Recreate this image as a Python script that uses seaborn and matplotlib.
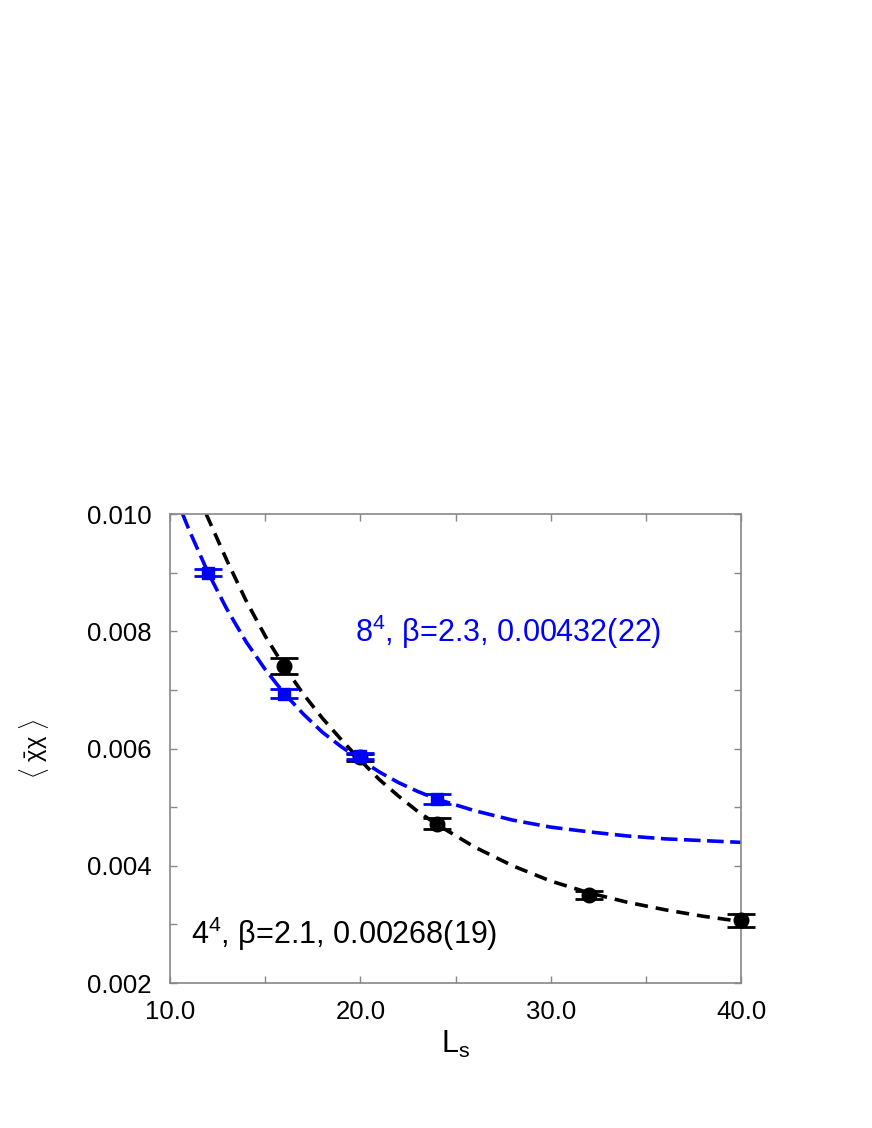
import numpy as np
import pandas as pd
import seaborn as sns
import matplotlib.pyplot as plt
from matplotlib.ticker import MultipleLocator, FormatStrFormatter

# measured points (L_s, <chibar chi>, error)
black_x = [16, 20, 24, 32, 40]
black_y = [0.00741, 0.00585, 0.00472, 0.00350, 0.00307]
black_err = [0.00014, 0.00006, 0.00010, 0.000065, 0.00011]

blue_x = [12, 16, 20, 24]
blue_y = [0.00900, 0.00694, 0.00587, 0.00514]
blue_err = [0.00006, 0.00008, 0.00005, 0.000085]

# fit curves
black_fit_x = [11.9, 13, 14, 15, 16, 17, 18, 19, 20, 21, 22, 23, 24, 26, 28, 30, 32, 34, 36, 38, 40]
black_fit_y = [0.01000, 0.00920, 0.00852, 0.00792, 0.00740, 0.00693, 0.00652, 0.00615,
               0.00580, 0.00547, 0.00519, 0.00493, 0.00471, 0.00432, 0.00400, 0.00374,
               0.00354, 0.00338, 0.00325, 0.00314, 0.00305]

blue_fit_x = [10.64, 11, 12, 13, 14, 15, 16, 17, 18, 19, 20, 21, 22, 23, 24, 26, 28, 30,
              32, 34, 36, 38, 40]
blue_fit_y = [0.01002, 0.00973, 0.00900, 0.00837, 0.00782, 0.00735, 0.00694, 0.00659,
              0.00628, 0.00603, 0.00581, 0.00560, 0.00542, 0.00527, 0.00514, 0.00494,
              0.00478, 0.00466, 0.00458, 0.00451, 0.00446, 0.00443, 0.00440]

sns.set_style("ticks")
plt.rcParams['font.family'] = ['Liberation Sans', 'DejaVu Sans']
plt.rcParams['mathtext.fontset'] = 'custom'
plt.rcParams['mathtext.rm'] = 'Liberation Sans'
plt.rcParams['mathtext.it'] = 'Liberation Sans:italic'
plt.rcParams['text.color'] = 'black'
plt.rcParams['axes.labelcolor'] = 'black'

fig = plt.figure(figsize=(8.72, 11.28), dpi=100)
ax = fig.add_axes([0.195, 0.1285, 0.655, 0.4157])

df_black = pd.DataFrame({'L': black_fit_x, 'pbp': black_fit_y})
df_blue = pd.DataFrame({'L': blue_fit_x, 'pbp': blue_fit_y})

sns.lineplot(data=df_black, x='L', y='pbp', ax=ax, color='black', lw=2.6, zorder=2)
ax.lines[-1].set_dashes([3.6, 2.2])
sns.lineplot(data=df_blue, x='L', y='pbp', ax=ax, color='#0000ff', lw=2.6, zorder=2)
ax.lines[-1].set_dashes([4.6, 1.8])

ax.errorbar(black_x, black_y, yerr=black_err, fmt='o', color='black', ms=10.5,
            capsize=10, capthick=2, elinewidth=2, zorder=3, clip_on=False)
ax.errorbar(blue_x, blue_y, yerr=blue_err, fmt='s', color='#0000ff', ms=8.5,
            capsize=10, capthick=2, elinewidth=2, zorder=4, clip_on=False)

ax.text(19.72, 0.00782, '8$^4$, β=2.3, 0.00432(22)', color='#0000ff', fontsize=22,
        va='baseline', ha='left')
ax.text(11.09, 0.002665, '4$^4$, β=2.1, 0.00268(19)', color='black', fontsize=22,
        va='baseline', ha='left')

ax.set_xlim(10, 40)
ax.set_ylim(0.002, 0.010)
ax.xaxis.set_major_locator(MultipleLocator(10))
ax.xaxis.set_minor_locator(MultipleLocator(5))
ax.yaxis.set_major_locator(MultipleLocator(0.002))
ax.yaxis.set_minor_locator(MultipleLocator(0.001))
ax.xaxis.set_major_formatter(FormatStrFormatter('%.1f'))
ax.yaxis.set_major_formatter(FormatStrFormatter('%.3f'))

ax.tick_params(which='both', direction='in', top=True, right=True, length=5,
               width=1, color='#888888', labelsize=18.5, labelcolor='black')
ax.tick_params(axis='y', pad=13)
ax.tick_params(axis='x', pad=12)
for s in ax.spines.values():
    s.set_color('#888888')
    s.set_linewidth(1.2)

ax.set_xlabel(r'L$_\mathrm{s}$', fontsize=22, labelpad=4)
ax.set_ylabel(r'$\langle\ \mathrm{\bar{\chi}\chi}\ \rangle$', fontsize=17, labelpad=26)

fig.savefig('out.png', dpi=100)
